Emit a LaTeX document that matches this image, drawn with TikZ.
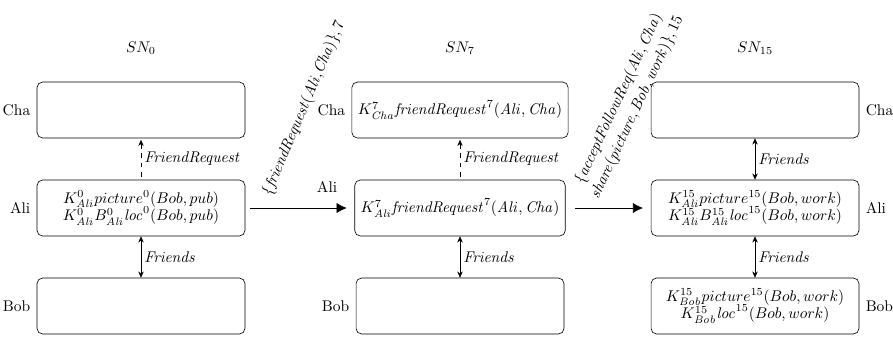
\documentclass[tikz,border=0pt]{standalone}
\usetikzlibrary{arrows.meta,positioning}

\begin{document}
\begin{tikzpicture}[x=0.0227cm,y=-0.0227cm,
  state/.style={draw, rounded corners=3.5pt, minimum width=4.72cm, minimum height=1.27cm,
                align=center, inner xsep=3.8pt, inner ysep=3pt},
  who/.style={inner sep=0pt},
  rel/.style={-{Stealth[length=4pt,width=3.5pt]}, dashed},
  friends/.style={{Stealth[length=4pt,width=3.5pt]}-{Stealth[length=4pt,width=3.5pt]}},
  step arrow/.style={-{Latex[length=6.5pt,width=6.5pt]}},
  lbl/.style={right, inner sep=2pt}]
\useasboundingbox (0,0) rectangle (893,338);

% ---- state SN_0 ----
\node (sn0) at (141,48) {$SN_0$};
\node[state] (cha0) at (141,110) {};
\node[state] (ali0) at (141,208)
  {$K^{0}_{\mathit{Ali}}picture^{0}(Bob, pub)$\\[-1pt]
   $K^{0}_{\mathit{Ali}}B^{0}_{\mathit{Ali}}\mathit{loc}^{0}(Bob, pub)$};
\node[state] (bob0) at (141,306) {};
\node[who, anchor=east] (lcha0) at ([xshift=-4pt]cha0.west) {Cha};
\node[who, anchor=east] (lali0) at ([xshift=-4pt]ali0.west) {Ali};
\node[who, anchor=east] (lbob0) at ([xshift=-4pt]bob0.west) {Bob};
\draw[rel, shorten <=2pt, shorten >=1pt] (ali0.north) -- node[lbl] {$\mathit{FriendRequest}$} (cha0.south);
\draw[friends] (ali0.south) -- node[lbl] {$\mathit{Friends}$} (bob0.north);

% ---- state SN_7 ----
\node (sn7) at (460,48) {$SN_7$};
\node[state] (cha7) at (460,110) {$K^{7}_{\mathit{Cha}}\mathit{friendRequest}^{7}(\mathit{Ali}, \mathit{Cha})$};
\node[state] (ali7) at (460,208) {$K^{7}_{\mathit{Ali}}\mathit{friendRequest}^{7}(\mathit{Ali}, \mathit{Cha})$};
\node[state] (bob7) at (460,306) {};
\node[who, anchor=east] (lcha7) at ([xshift=-4pt]cha7.west) {Cha};
\node[who] (lali7) at (327,187) {Ali};
\node[who, anchor=east] (lbob7) at ([xshift=-4pt]bob7.west) {Bob};
\draw[rel, shorten <=2pt, shorten >=1pt] (ali7.north) -- node[lbl] {$\mathit{FriendRequest}$} (cha7.south);
\draw[friends] (ali7.south) -- node[lbl] {$\mathit{Friends}$} (bob7.north);

% ---- state SN_15 ----
\node (sn15) at (755,48) {$SN_{15}$};
\node[state] (cha15) at (755,110) {};
\node[state] (ali15) at (755,208)
  {$K^{15}_{\mathit{Ali}}picture^{15}(Bob, work)$\\[-1pt]
   $K^{15}_{\mathit{Ali}}B^{15}_{\mathit{Ali}}\mathit{loc}^{15}(Bob, work)$};
\node[state] (bob15) at (755,306)
  {$K^{15}_{\mathit{Bob}}picture^{15}(Bob, work)$\\[-1pt]
   $K^{15}_{\mathit{Bob}}\mathit{loc}^{15}(Bob, work)$};
\node[who, anchor=west] (lcha15) at ([xshift=4pt]cha15.east) {Cha};
\node[who, anchor=west] (lali15) at ([xshift=4pt]ali15.east) {Ali};
\node[who, anchor=west] (lbob15) at ([xshift=4pt]bob15.east) {Bob};
\draw[friends] (cha15.south) -- node[lbl] {$\mathit{Friends}$} (ali15.north);
\draw[friends] (ali15.south) -- node[lbl] {$\mathit{Friends}$} (bob15.north);

% ---- transitions ----
\draw[step arrow, shorten <=3pt, shorten >=5pt] (ali0.east) -- (ali7.west);
\draw[step arrow, shorten <=6pt, shorten >=5pt] (ali7.east) -- (ali15.west);
\node[rotate=67, inner sep=0pt] (t1) at (304,108)
  {$\{\mathit{friendRequest}(\mathit{Ali}{,}\mathit{Cha})\}, 7$};
\node[rotate=65, inner sep=0pt, align=center] (t2) at (628,103)
  {$\{\mathit{acceptFollowReq}(\mathit{Ali}, \mathit{Cha})$\\[1pt]
   $\mathit{share}(\mathit{picture}, \mathit{Bob}, \mathit{work})\}, 15$};
\end{tikzpicture}
\end{document}
